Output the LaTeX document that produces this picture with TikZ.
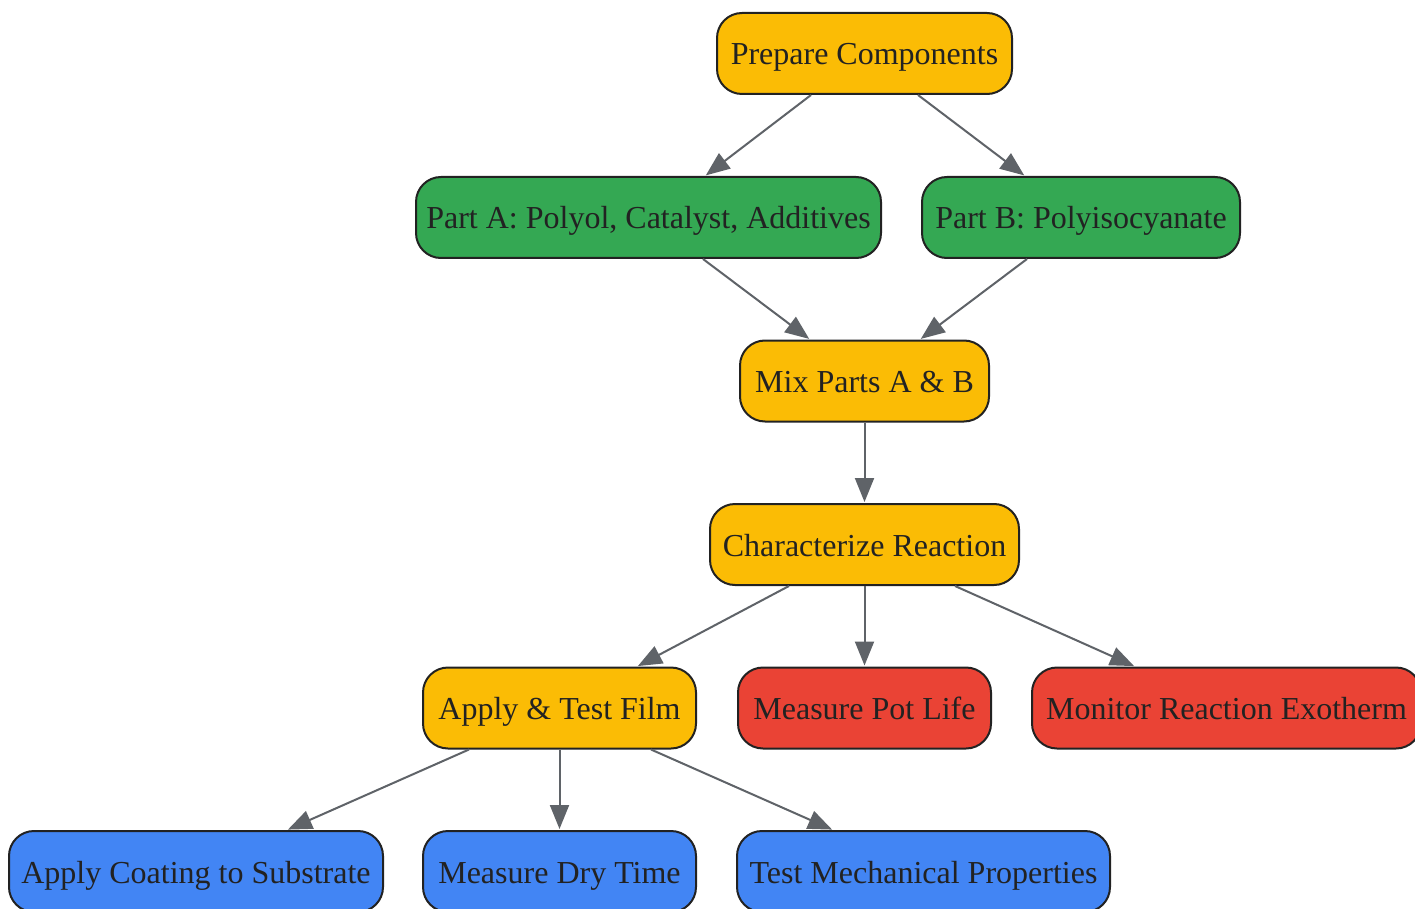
\documentclass[tikz,border=0pt]{standalone}
\usepackage{fontspec}
\setmainfont{Liberation Serif}
\usetikzlibrary{arrows.meta}
\definecolor{cy}{HTML}{FBBC05}
\definecolor{cg}{HTML}{34A853}
\definecolor{cr}{HTML}{EA4335}
\definecolor{cb}{HTML}{4285F4}
\definecolor{bd}{HTML}{222222}
\definecolor{tx}{HTML}{222222}
\definecolor{eg}{HTML}{5F6368}
\begin{document}
\begin{tikzpicture}[x=1pt,y=-1pt,
  box/.style={draw=bd, line width=2pt, rounded corners=25pt, minimum height=81pt, inner sep=0pt,
    text height=23pt, text depth=0pt,
    font=\fontsize{32}{38}\selectfont, text=tx},
  edge/.style={draw=eg, line width=2pt, -{Triangle[length=24pt,width=19pt]}, shorten >=1pt}]
\useasboundingbox (0,0) rectangle (1415,909);
\clip (0,0) rectangle (1415,909);
\fill[white] (0,0) rectangle (1415,909);

\node[box, fill=cy, minimum width=295pt] (pc) at (864.5,53.5) {Prepare Components};
\node[box, fill=cg, minimum width=465pt] (pa) at (648.5,217.5) {Part A: Polyol, Catalyst, Additives};
\node[box, fill=cg, minimum width=318pt] (pb) at (1081,217.5) {Part B: Polyisocyanate};
\node[box, fill=cy, minimum width=249pt] (mix) at (864.5,381) {Mix Parts A \& B};
\node[box, fill=cy, minimum width=309pt] (ch) at (864.5,544.5) {Characterize Reaction};
\node[box, fill=cy, minimum width=273pt] (at) at (559.5,708) {Apply \& Test Film};
\node[box, fill=cr, minimum width=253pt] (pl) at (864.5,708) {Measure Pot Life};
\node[box, fill=cr, minimum width=389pt] (mr) at (1226.5,708) {Monitor Reaction Exotherm};
\node[box, fill=cb, minimum width=374pt] (ac) at (196,871.5) {Apply Coating to Substrate};
\node[box, fill=cb, minimum width=273pt] (dt) at (559.5,871.5) {Measure Dry Time};
\node[box, fill=cb, minimum width=373pt] (tm) at (923.5,871.5) {Test Mechanical Properties};

\draw[edge] ([xshift=-53.5pt]pc.south) -- ([xshift=56.5pt]pa.north);
\draw[edge] ([xshift=53.5pt]pc.south) -- ([xshift=-56pt]pb.north);
\draw[edge] ([xshift=54.5pt]pa.south) -- ([xshift=-54.5pt]mix.north);
\draw[edge] ([xshift=-54pt]pb.south) -- ([xshift=55.5pt]mix.north);
\draw[edge] (mix.south) -- (ch.north);
\draw[edge] ([xshift=-75.5pt]ch.south) -- ([xshift=77.5pt]at.north);
\draw[edge] (ch.south) -- (pl.north);
\draw[edge] ([xshift=90.5pt]ch.south) -- ([xshift=-91.5pt]mr.north);
\draw[edge] ([xshift=-90.5pt]at.south) -- ([xshift=91pt]ac.north);
\draw[edge] (at.south) -- (dt.north);
\draw[edge] ([xshift=91.5pt]at.south) -- ([xshift=-90.5pt]tm.north);
\end{tikzpicture}
\end{document}
